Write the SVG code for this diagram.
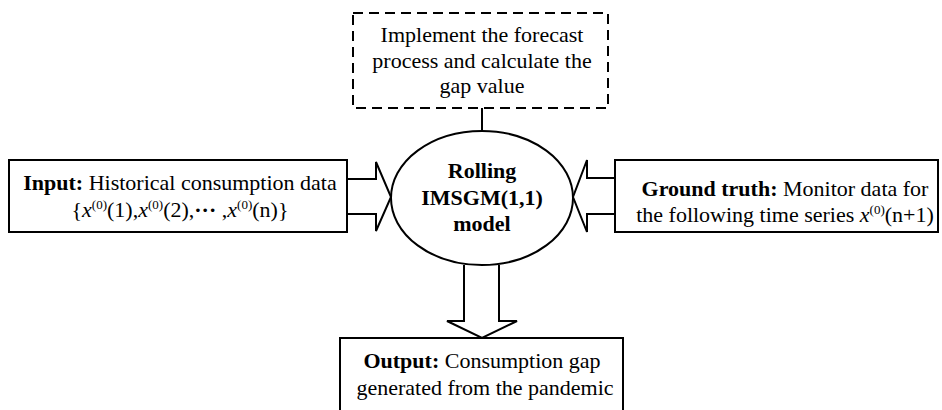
<svg xmlns="http://www.w3.org/2000/svg" width="942" height="410" viewBox="0 0 942 410">
<style>
.box{fill:#fff;stroke:#000;stroke-width:2}
.dash{fill:#fff;stroke:#000;stroke-width:2;stroke-dasharray:10 6}
.arr{fill:none;stroke:#000;stroke-width:2;stroke-linejoin:miter}
.ln{stroke:#000;stroke-width:2;fill:none}
text{font-family:"Liberation Serif","Times New Roman",serif;font-size:22px;fill:#000}
.b{font-weight:bold}
.i{font-style:italic}
.sup{font-size:13px}
</style>
<rect width="942" height="410" fill="#fff"/>
<g id="forecast">
<rect class="dash" x="353" y="13" width="255" height="95"/>
<text x="482" y="42" text-anchor="middle">Implement the forecast</text>
<text x="482" y="68" text-anchor="middle">process and calculate the</text>
<text x="482" y="93" text-anchor="middle">gap value</text>
</g>
<g id="input">
<rect class="box" x="9" y="160" width="338" height="72"/>
<text x="180" y="190" text-anchor="middle"><tspan class="b">Input:</tspan> Historical consumption data</text>
<text x="180" y="217" text-anchor="middle">{<tspan class="i">x</tspan><tspan class="sup" dy="-8">(0)</tspan><tspan dy="8">(1),</tspan><tspan class="i">x</tspan><tspan class="sup" dy="-8">(0)</tspan><tspan dy="8">(2),</tspan><tspan class="b">···</tspan> ,<tspan class="i">x</tspan><tspan class="sup" dy="-8">(0)</tspan><tspan dy="8">(n)}</tspan></text>
</g>
<g id="truth">
<rect class="box" x="615" y="160" width="323" height="72"/>
<text x="785" y="196" text-anchor="middle"><tspan class="b">Ground truth:</tspan> Monitor data for</text>
<text x="785" y="222" text-anchor="middle">the following time series <tspan class="i">x</tspan><tspan class="sup" dy="-8">(0)</tspan><tspan dy="8">(n+1)</tspan></text>
</g>
<g id="output">
<rect class="box" x="340" y="338" width="283" height="80"/>
<text x="482" y="368" text-anchor="middle"><tspan class="b">Output:</tspan> Consumption gap</text>
<text x="485" y="395" text-anchor="middle">generated from the pandemic</text>
</g>
<g id="connectors">
<line class="ln" x1="482" y1="108" x2="482" y2="131"/>
<path class="arr" d="M347,179 H376 V162 L391,197 L376,231 V214 H347"/>
<path class="arr" d="M615,178 H587 V160 L573,197 L587,232 V214 H615"/>
<path class="arr" d="M464,265 V321 H447 L482,338 L517,321 H499 V265"/>
</g>
<g id="model">
<ellipse class="ln" cx="482" cy="198" rx="91" ry="67"/>
<text class="b" x="482" y="178" text-anchor="middle">Rolling</text>
<text class="b" x="482" y="205" text-anchor="middle">IMSGM(1,1)</text>
<text class="b" x="482" y="231" text-anchor="middle">model</text>
</g>
</svg>
